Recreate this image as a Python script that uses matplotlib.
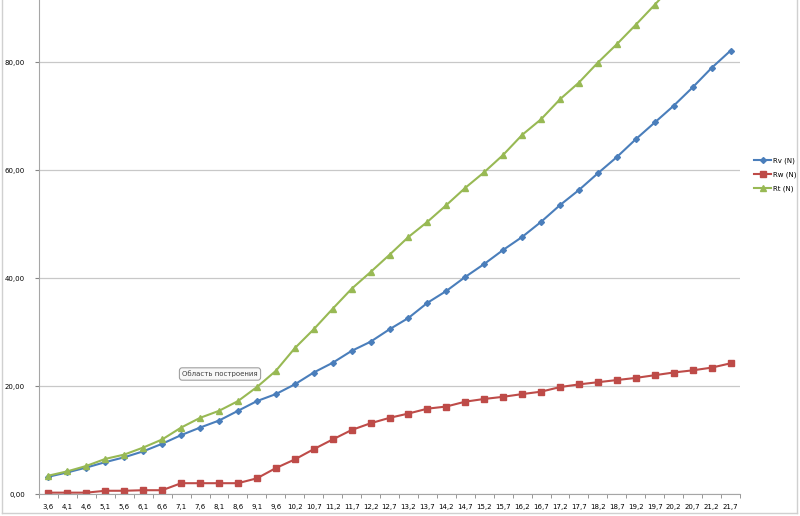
import matplotlib
matplotlib.use('Agg')
import matplotlib.pyplot as plt
from matplotlib.lines import Line2D

# категории (скорость)
labels = ['3,6', '4,1', '4,6', '5,1', '5,6', '6,1', '6,6', '7,1', '7,6', '8,1',
          '8,6', '9,1', '9,6', '10,2', '10,7', '11,2', '11,7', '12,2', '12,7',
          '13,2', '13,7', '14,2', '14,7', '15,2', '15,7', '16,2', '16,7', '17,2',
          '17,7', '18,2', '18,7', '19,2', '19,7', '20,2', '20,7', '21,2', '21,7']

rv = [3.2, 4.0, 4.9, 5.9, 6.8, 7.9, 9.3, 10.9, 12.3, 13.6, 15.4, 17.2, 18.5,
      20.3, 22.5, 24.3, 26.5, 28.2, 30.5, 32.6, 35.4, 37.6, 40.2, 42.6, 45.2,
      47.6, 50.4, 53.5, 56.3, 59.4, 62.4, 65.7, 68.8, 71.9, 75.3, 78.9, 82.1]
rw = [0.25, 0.25, 0.25, 0.6, 0.6, 0.7, 0.7, 2.0, 2.0, 2.0, 2.0, 2.9, 4.8,
      6.4, 8.3, 10.1, 11.85, 13.1, 14.1, 14.9, 15.8, 16.2, 17.1, 17.6, 18.0,
      18.5, 18.95, 19.8, 20.3, 20.7, 21.1, 21.5, 22.0, 22.5, 22.9, 23.4, 24.2]
rt = [3.4, 4.2, 5.2, 6.5, 7.3, 8.6, 10.1, 12.3, 14.1, 15.4, 17.2, 19.8, 22.8,
      27.0, 30.5, 34.3, 38.0, 41.1, 44.3, 47.6, 50.4, 53.5, 56.7, 59.6, 62.8,
      66.5, 69.4, 73.1, 76.2, 79.9, 83.3, 86.9, 90.6, 94.4, 98.2, 102.3, 106.3]

x = list(range(len(labels)))

fig = plt.figure(figsize=(8.0, 5.16), dpi=100)
ax = fig.add_axes([39/800, 1 - 494/516, 701/800, 494/516])

ax.plot(x, rv, color='#4A7EBB', lw=1.5, marker='D', ms=3, label='Rv (N)')
ax.plot(x, rw, color='#BE4B48', lw=1.5, marker='s', ms=4, label='Rw (N)')
ax.plot(x, rt, color='#98B954', lw=1.5, marker='^', ms=4, label='Rt (N)')

ax.set_xlim(-0.5, len(labels) - 0.5)
ax.set_ylim(0, 494/5.4)

ax.set_yticks([0, 20, 40, 60, 80])
ax.set_yticklabels(['0,00', '20,00', '40,00', '60,00', '80,00'], fontsize=5)
ax.set_xticks(x)
ax.set_xticklabels(labels, fontsize=5)
ax.set_xticks([i + 0.5 for i in range(-1, len(labels))], minor=True)
ax.tick_params(axis='x', which='major', length=0, pad=7)
ax.tick_params(axis='x', which='minor', length=3, color='#868686')
ax.tick_params(axis='y', length=3, color='#868686', pad=7)
ax.yaxis.grid(True, color='#C8C8C8', lw=0.9)
ax.set_axisbelow(True)

for s in ['top', 'right']:
    ax.spines[s].set_visible(False)
for s in ['left', 'bottom']:
    ax.spines[s].set_color('#A6A6A6')

# рамка области диаграммы
for xs, ys in [([0.003, 0.003], [0.006, 1.0]),
               ([0.003, 0.996], [0.006, 0.006]),
               ([0.996, 0.996], [0.006, 1.0])]:
    fig.add_artist(Line2D(xs, ys, color='#D0D0D0', lw=1))

fig.legend(loc='center left', bbox_to_anchor=(748/800, 1 - 175/516),
           frameon=False, fontsize=5, handlelength=2.4, labelspacing=1.1,
           handletextpad=0.3)

fig.text(220/800, 1 - 374/516, 'Область построения', fontsize=5,
         ha='center', va='center', color='#404040',
         bbox=dict(boxstyle='round,pad=0.4', fc='#F8F8F8', ec='#A0A0A0', lw=0.8))

plt.savefig('out.png', dpi=100)
